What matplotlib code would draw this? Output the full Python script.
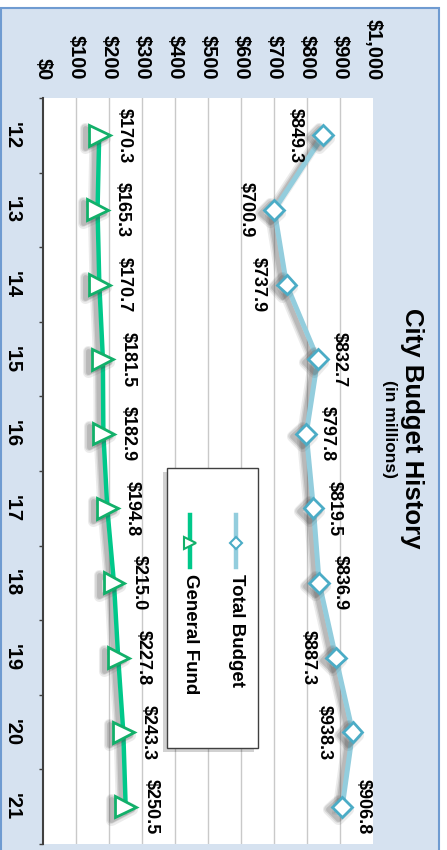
import matplotlib
matplotlib.use('Agg')
import matplotlib.pyplot as plt
import matplotlib.patheffects as pe
from matplotlib.patches import Rectangle
from matplotlib.lines import Line2D

# data
years = ["'12", "'13", "'14", "'15", "'16", "'17", "'18", "'19", "'20", "'21"]
total_budget = [849.3, 700.9, 737.9, 832.7, 797.8, 819.5, 836.9, 887.3, 938.3, 906.8]
general_fund = [170.3, 165.3, 170.7, 181.5, 182.9, 194.8, 215.0, 227.8, 243.3, 250.5]
value_ticks = [0, 100, 200, 300, 400, 500, 600, 700, 800, 900, 1000]
# which side the total budget labels sit on (1 = higher value side, -1 = lower)
total_side = [-1, -1, -1, 1, 1, 1, 1, -1, -1, 1]

plt.rcParams['font.family'] = ['Liberation Sans', 'DejaVu Sans']
plt.rcParams['font.weight'] = 'bold'

W, H = 447, 850
fig = plt.figure(figsize=(W / 100, H / 100), dpi=100)
fig.patch.set_facecolor('white')

# chart area background with border
fig.patches.append(Rectangle((0.8 / W, -0.01), 438 / W, 1 - 8 / H + 0.01,
                             transform=fig.transFigure, facecolor='#D6E2F0',
                             edgecolor='#6F9BD1', lw=1.5, zorder=-1))

ax = fig.add_axes([43 / W, 6 / H, 330 / W, (844 - 98) / H])
ax.set_zorder(1)
ax.set_facecolor('white')
ys = list(range(len(years)))
ax.set_xlim(value_ticks[0], value_ticks[-1])
ax.set_ylim(len(years) - 0.5, -0.5)

for v in value_ticks[1:-1]:
    ax.axvline(v, color='#C9C9C9', lw=1, zorder=0)

for s in ['top', 'right', 'bottom']:
    ax.spines[s].set_visible(False)
ax.spines['left'].set_color('#404040')
ax.spines['left'].set_linewidth(1.5)

ax.xaxis.tick_top()
ax.set_xticks(value_ticks)
ax.set_xticklabels(['${:,}'.format(v) for v in value_ticks])
ax.tick_params(axis='x', length=0, pad=13, labelsize=14.5)
for lab in ax.get_xticklabels():
    lab.set_rotation(-90)
    lab.set_va('bottom')
    lab.set_ha('center')
    lab.set_fontweight('bold')

ax.set_yticks(ys)
ax.set_yticklabels(years)
ax.set_yticks([y - 0.5 for y in ys] + [len(years) - 0.5], minor=True)
ax.tick_params(axis='y', which='major', length=0, pad=15, labelsize=14.5)
ax.tick_params(axis='y', which='minor', length=3, width=1, color='#404040')
for lab in ax.get_yticklabels():
    lab.set_rotation(-90)
    lab.set_va('center')
    lab.set_ha('right')
    lab.set_fontweight('bold')

# soft shadow: a few wide, faint copies under the line
shadow = [pe.SimpleLineShadow(offset=(-3, -2), shadow_color='#444444', alpha=0.10,
                              linewidth=8, joinstyle='round'),
          pe.SimpleLineShadow(offset=(-3, -2), shadow_color='#444444', alpha=0.14,
                              linewidth=5.5, joinstyle='round'),
          pe.SimpleLineShadow(offset=(-3, -2), shadow_color='#444444', alpha=0.18,
                              linewidth=3.5, joinstyle='round'),
          pe.Normal()]

ax.plot(total_budget, ys, color='#93CDDD', lw=3.6, marker='D', ms=10,
        mfc='white', mec='#4BACC6', mew=2, path_effects=shadow, zorder=3,
        clip_on=False)
ax.plot(general_fund, ys, color='#00C88A', lw=3.2, marker='>', ms=15,
        mfc='white', mec='#12B06A', mew=2, path_effects=shadow, zorder=3,
        clip_on=False)

for i, v in enumerate(total_budget):
    side = total_side[i]
    off = -14 if side < 0 else 9
    ax.annotate('${:.1f}'.format(v), (v, i), xytext=(off, 0),
                textcoords='offset points', rotation=-90,
                ha='left' if side > 0 else 'right', va='center',
                fontsize=13, fontweight='bold', zorder=5)
for i, v in enumerate(general_fund):
    ax.annotate('${:.1f}'.format(v), (v, i), xytext=(12, 0),
                textcoords='offset points', rotation=-90,
                ha='left', va='center', fontsize=13, fontweight='bold', zorder=5)

# title
fig.text(412 / W, 1 - 428 / H, 'City Budget History', rotation=-90,
         ha='center', va='center', fontsize=18.5, fontweight='bold')
fig.text(389 / W, 1 - 429 / H, '(in millions)', rotation=-90,
         ha='center', va='center', fontsize=12.5, fontweight='bold')

# legend (drawn by hand so the text can be turned)
fig.patches.append(Rectangle((163 / W, 1 - 752 / H), 91 / W, 280 / H,
                             transform=fig.transFigure, facecolor='#000000',
                             alpha=0.18, edgecolor='none', zorder=4))
fig.patches.append(Rectangle((167 / W, 1 - 748 / H), 91 / W, 280 / H,
                             transform=fig.transFigure, facecolor='white',
                             edgecolor='#404040', lw=1, zorder=5))
fig.lines.append(Line2D([236 / W, 236 / W], [1 - 515 / H, 1 - 567 / H],
                        transform=fig.transFigure, color='#93CDDD', lw=3.2, zorder=6))
fig.lines.append(Line2D([236 / W], [1 - 543 / H], transform=fig.transFigure,
                        marker='D', ms=6, mfc='white', mec='#4BACC6', mew=1.5,
                        lw=0, zorder=7))
fig.text(236 / W, 1 - 574 / H, 'Total Budget', rotation=-90, ha='center',
         va='top', fontsize=13.5, fontweight='bold', zorder=7)
fig.lines.append(Line2D([190 / W, 190 / W], [1 - 515 / H, 1 - 567 / H],
                        transform=fig.transFigure, color='#00C88A', lw=3.2, zorder=6))
fig.lines.append(Line2D([190 / W], [1 - 543 / H], transform=fig.transFigure,
                        marker='>', ms=8, mfc='white', mec='#12B06A', mew=1.5,
                        lw=0, zorder=7))
fig.text(191 / W, 1 - 574 / H, 'General Fund', rotation=-90, ha='center',
         va='top', fontsize=13.5, fontweight='bold', zorder=7)

fig.savefig('out.png', dpi=100)
